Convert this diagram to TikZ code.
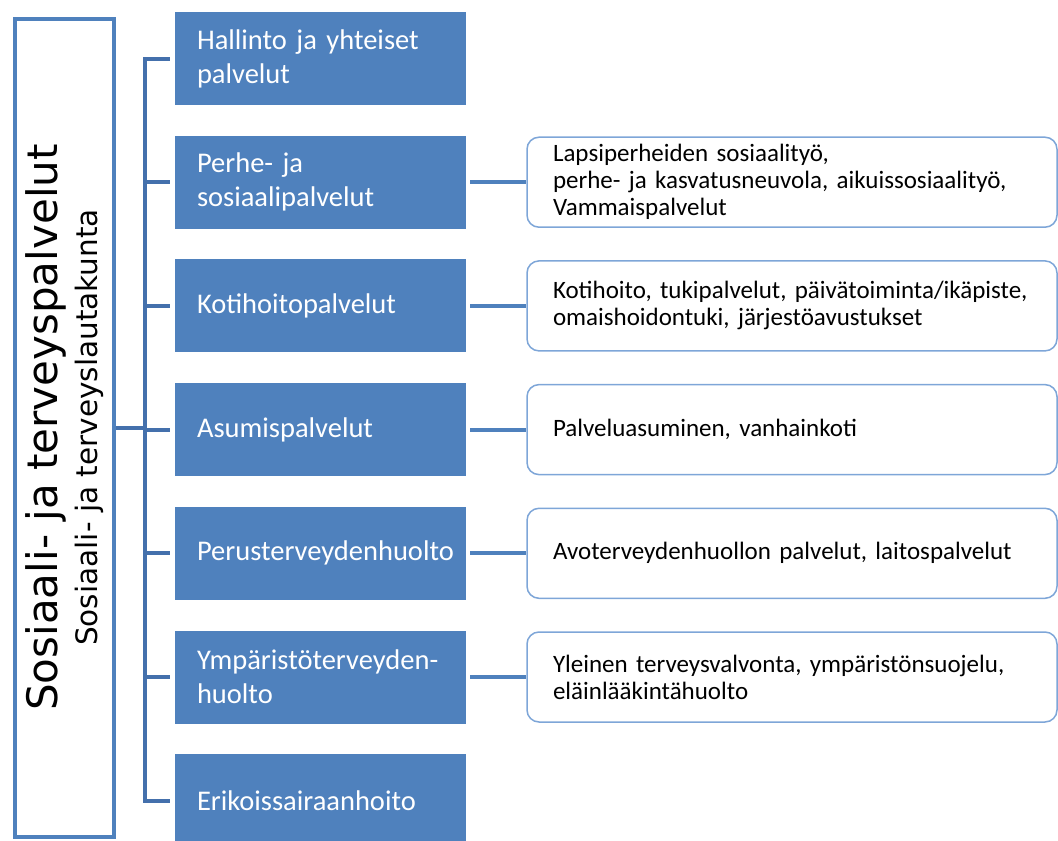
\documentclass[tikz,border=0pt]{standalone}
\usepackage{fontspec}
\setmainfont{Carlito}
\newfontfamily\titlefont{DejaVu Sans}
\definecolor{boxblue}{HTML}{4F81BD}
\definecolor{linkblue}{HTML}{4470AC}
\definecolor{edgeblue}{HTML}{7EA6D8}
\begin{document}
\begin{tikzpicture}[x=1pt, y=-1pt, node distance={123.7pt},
    unit/.style = {fill=boxblue, text=white, minimum width=291pt, minimum height=93pt, text width=247pt, inner xsep=22pt, align=left, font=\fontsize{28.5}{34}\selectfont},
    info/.style = {draw=edgeblue, line width=1.5pt, rounded corners=12pt, fill=white, minimum width=530pt, minimum height=90pt, text width=478pt, inner xsep=26pt, align=left, font=\fontsize{25}{27}\selectfont},
    head/.style = {draw=boxblue, line width=4pt, minimum width=99pt, minimum height=818pt, inner sep=0pt},
    bus/.style = {draw=linkblue, line width=4pt}]
    \useasboundingbox (0,0) rectangle (1058,841);
    \node[head] (main) at (64.5,427.5) {};
    \node[rotate=90, align=center, font=\titlefont\fontsize{29.5}{40}\selectfont] (title) at (main.center) {{\fontsize{42}{40}\selectfont Sosiaali- ja terveyspalvelut}\\Sosiaali- ja terveyslautakunta};
    \node[unit] (hallinto) at (320.5,58.5) {Hallinto ja yhteiset\\palvelut};
    \node[unit] (perhe) [below of=hallinto] {Perhe- ja\\sosiaalipalvelut};
    \node[unit] (koti) [below of=perhe] {Kotihoitopalvelut};
    \node[unit] (asumis) [below of=koti] {Asumispalvelut};
    \node[unit] (perus) [below of=asumis] {Perusterveydenhuolto};
    \node[unit] (ymparisto) [below of=perus] {Ympäristöterveyden-\\huolto};
    \node[unit] (erikois) [below of=ymparisto] {Erikoissairaanhoito};
    \node[info] (perheinfo) [right of=perhe, node distance=471.5pt] {Lapsiperheiden sosiaalityö,\\perhe- ja kasvatusneuvola, aikuissosiaalityö,\\Vammaispalvelut};
    \node[info] (kotiinfo) [right of=koti, node distance=471.5pt] {Kotihoito, tukipalvelut, päivätoiminta/ikäpiste,\\omaishoidontuki, järjestöavustukset};
    \node[info] (asumisinfo) [right of=asumis, node distance=471.5pt] {Palveluasuminen, vanhainkoti};
    \node[info] (perusinfo) [right of=perus, node distance=471.5pt] {Avoterveydenhuollon palvelut, laitospalvelut};
    \node[info] (ymparistoinfo) [right of=ymparisto, node distance=471.5pt] {Yleinen terveysvalvonta, ympäristönsuojelu,\\eläinlääkintähuolto};
    \coordinate (bus) at (145,0);
    \draw[bus] ([xshift=-5pt]hallinto.west) -| (bus |- erikois.west) -- ([xshift=-5pt]erikois.west);
    \foreach \n in {perhe,koti,asumis,perus,ymparisto}
        \draw[bus] (bus |- \n.west) -- ([xshift=-5pt]\n.west);
    \draw[bus] (main.east) -- (bus |- main.east);
    \foreach \n in {perhe,koti,asumis,perus,ymparisto}
        \draw[bus, draw=boxblue] ([xshift=4pt]\n.east) -- (\n info.west);
\end{tikzpicture}
\end{document}
